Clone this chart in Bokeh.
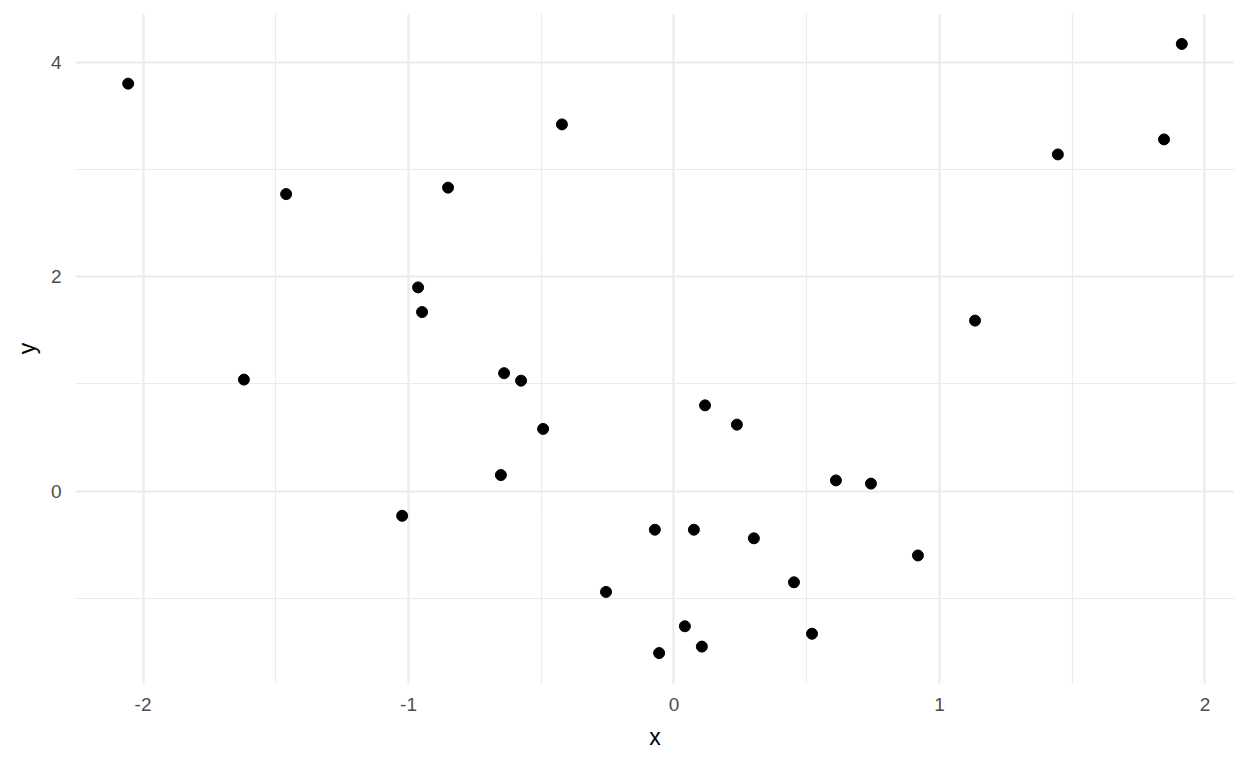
from bokeh.plotting import figure
from bokeh.models import Range1d, FixedTicker, ColumnDataSource
from bokeh.embed import file_html
from bokeh.resources import INLINE

x_vals = [-2.056, -1.620, -1.461, -1.024, -0.964, -0.949, -0.851, -0.652, -0.640, -0.576,
          -0.493, -0.422, -0.256, -0.072, -0.056, 0.041, 0.075, 0.105, 0.117, 0.237,
          0.301, 0.452, 0.520, 0.610, 0.742, 0.919, 1.134, 1.446, 1.846, 1.913]
y_vals = [3.80, 1.04, 2.77, -0.23, 1.90, 1.67, 2.83, 0.15, 1.10, 1.03,
          0.58, 3.42, -0.94, -0.36, -1.51, -1.26, -0.36, -1.45, 0.80, 0.62,
          -0.44, -0.85, -1.33, 0.10, 0.07, -0.60, 1.59, 3.14, 3.28, 4.17]
x_ticks = [-2, -1, 0, 1, 2]
y_ticks = [0, 2, 4]
x_minor = [-1.5, -0.5, 0.5, 1.5]
y_minor = [-1, 1, 3]

def expand(vals, f=0.05):
    lo, hi = min(vals), max(vals)
    d = (hi - lo) * f
    return lo - d, hi + d

xlo, xhi = expand(x_vals)
ylo, yhi = expand(y_vals)

p = figure(width=1240, height=760, output_backend="svg", toolbar_location=None,
           x_range=Range1d(xlo, xhi), y_range=Range1d(ylo, yhi),
           min_border_left=75, min_border_right=6, min_border_top=13, min_border_bottom=77)
p.outline_line_color = None
p.background_fill_color = "white"
p.border_fill_color = "white"

for ax, ticks, minor in ((p.xaxis, x_ticks, x_minor), (p.yaxis, y_ticks, y_minor)):
    ax.ticker = FixedTicker(ticks=ticks, minor_ticks=minor)
    ax.axis_line_color = None
    ax.major_tick_line_color = None
    ax.minor_tick_line_color = None
    ax.major_label_text_color = "#4D4D4D"
    ax.major_label_text_font = "Liberation Sans"
    ax.major_label_text_font_size = "19px"
    ax.axis_label_text_font = "Liberation Sans"
    ax.axis_label_text_font_size = "23px"
    ax.axis_label_text_font_style = "normal"
    ax.axis_label_text_color = "black"
    ax.major_label_overrides = {t: str(t) for t in ticks}

p.xaxis.axis_label = "x"
p.yaxis.axis_label = "y"
p.xaxis.major_label_standoff = 8
p.yaxis.major_label_standoff = 8
p.xaxis.axis_label_standoff = 10
p.yaxis.axis_label_standoff = 8

for g in (p.xgrid, p.ygrid):
    g.grid_line_color = "#EBEBEB"
    g.grid_line_width = 2.2
    g.minor_grid_line_color = "#EBEBEB"
    g.minor_grid_line_width = 1.1

src = ColumnDataSource(dict(x=x_vals, y=y_vals))
p.scatter("x", "y", source=src, size=11, color="black")

open("out.html", "w").write(file_html(p, INLINE))
